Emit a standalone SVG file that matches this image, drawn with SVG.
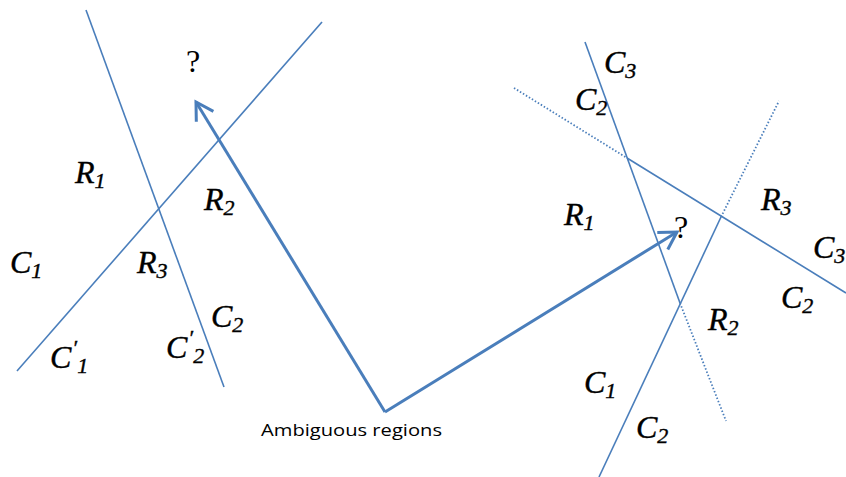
<svg xmlns="http://www.w3.org/2000/svg" width="846" height="477" viewBox="0 0 846 477">
<style>
.ln{stroke:#4A7EBB;stroke-width:1.6;fill:none}
.dt{stroke:#4A7EBB;stroke-width:1.8;fill:none;stroke-dasharray:1.5 2}
.ar{stroke:#4A7EBB;stroke-width:3;fill:none}
.m{font-family:"Liberation Serif","DejaVu Serif",serif;font-style:italic;font-size:32px;fill:#000;stroke:#000;stroke-width:0.4}
.q{font-family:"Liberation Serif","DejaVu Serif",serif;font-size:32px;fill:#000}
.s{font-size:22px}
.lab{font-family:"Open Sans","Liberation Sans",sans-serif;font-size:17px;fill:#000}
</style>
<defs>
<marker id="ah" viewBox="-20 -13 23 26" refX="0" refY="0" markerWidth="23" markerHeight="26" markerUnits="userSpaceOnUse" orient="auto">
<path d="M-17,-10 L0,0 L-17,10" fill="none" stroke="#4A7EBB" stroke-width="3"/>
</marker>
</defs>
<g id="left-lines">
<line class="ln" x1="86" y1="10" x2="224" y2="387"/>
<line class="ln" x1="322" y1="22" x2="17" y2="371"/>
</g>
<g id="right-lines">
<line class="ln" x1="585" y1="42" x2="680" y2="303"/>
<line class="dt" x1="680" y1="303" x2="726" y2="421"/>
<line class="dt" x1="514" y1="88" x2="627" y2="158"/>
<line class="ln" x1="627" y1="158" x2="846" y2="293"/>
<line class="ln" x1="599" y1="477" x2="721" y2="217"/>
<line class="dt" x1="721" y1="217" x2="779" y2="101"/>
</g>
<g id="connectors">
<line class="ar" x1="385" y1="412" x2="196" y2="102" marker-end="url(#ah)"/>
<line class="ar" x1="385" y1="412" x2="677" y2="232" marker-end="url(#ah)"/>
</g>
<g id="left-labels">
<text class="q" x="186" y="72">?</text>
<text class="m" x="75" y="183">R<tspan class="s" dy="5">1</tspan></text>
<text class="m" x="204" y="210">R<tspan class="s" dy="5">2</tspan></text>
<text class="m" x="10" y="273">C<tspan class="s" dy="5">1</tspan></text>
<text class="m" x="137" y="273">R<tspan class="s" dy="5">3</tspan></text>
<text class="m" x="211" y="327">C<tspan class="s" dy="5">2</tspan></text>
<text class="m" x="166" y="358">C<tspan class="s" dx="1" dy="-13">′</tspan><tspan class="s" dx="0" dy="18">2</tspan></text>
<text class="m" x="50" y="368">C<tspan class="s" dx="1" dy="-13">′</tspan><tspan class="s" dx="0" dy="18">1</tspan></text>
</g>
<g id="right-labels">
<text class="m" x="604" y="73">C<tspan class="s" dy="5">3</tspan></text>
<text class="m" x="575" y="110">C<tspan class="s" dy="5">2</tspan></text>
<text class="m" x="564" y="225">R<tspan class="s" dy="5">1</tspan></text>
<text class="q" x="674" y="238">?</text>
<text class="m" x="761" y="210">R<tspan class="s" dy="5">3</tspan></text>
<text class="m" x="813" y="258">C<tspan class="s" dy="5">3</tspan></text>
<text class="m" x="781" y="308">C<tspan class="s" dy="5">2</tspan></text>
<text class="m" x="708" y="330">R<tspan class="s" dy="5">2</tspan></text>
<text class="m" x="584" y="393">C<tspan class="s" dy="5">1</tspan></text>
<text class="m" x="636" y="438">C<tspan class="s" dy="5">2</tspan></text>
</g>
<g id="caption">
<text class="lab" x="261" y="436" textLength="181" lengthAdjust="spacingAndGlyphs">Ambiguous regions</text>
</g>
</svg>
